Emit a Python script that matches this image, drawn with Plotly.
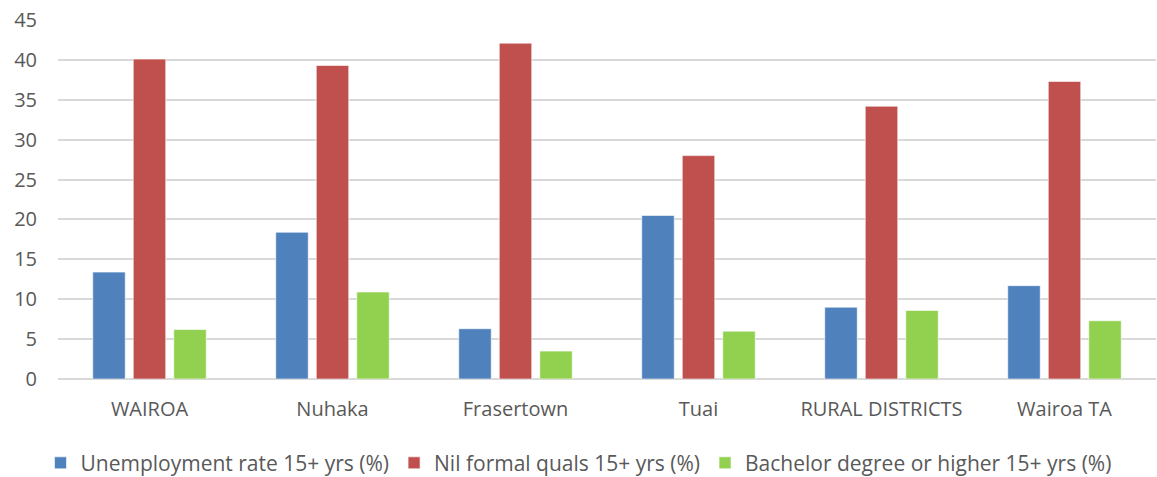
import plotly.graph_objects as go

categories = ["WAIROA", "Nuhaka", "Frasertown", "Tuai", "RURAL DISTRICTS", "Wairoa TA"]
unemployment = [13.4, 18.4, 6.3, 20.5, 9.0, 11.7]
nil_quals = [40.1, 39.3, 42.1, 28.0, 34.2, 37.3]
bachelor = [6.2, 10.9, 3.5, 6.0, 8.6, 7.3]
y_ticks = [0, 5, 10, 15, 20, 25, 30, 35, 40, 45]

series = [
    ("Unemployment rate 15+ yrs (%)", unemployment, "#4F81BD"),
    ("Nil formal quals 15+ yrs (%)", nil_quals, "#C0504D"),
    ("Bachelor degree or higher 15+ yrs (%)", bachelor, "#92D050"),
]

fig = go.Figure()
for name, vals, color in series:
    fig.add_trace(go.Bar(
        x=categories, y=vals, name=name,
        marker=dict(color=color, line=dict(color="rgba(255,255,255,0.6)", width=1)),
    ))

font_family = "Open Sans, Liberation Sans, sans-serif"
fig.update_layout(
    width=1157, height=477,
    margin=dict(l=58, r=1, t=20, b=98, autoexpand=False),
    paper_bgcolor="white", plot_bgcolor="white",
    barmode="group", bargap=0.336, bargroupgap=0.198,
    font=dict(family=font_family, size=20, color="#595959"),
    xaxis=dict(showgrid=False, showline=False, ticks="", tickfont=dict(size=20),
               ticklabelstandoff=16),
    yaxis=dict(range=[0, 45], tickvals=y_ticks, showgrid=True, gridcolor="#D9D9D9",
               gridwidth=1.5, zeroline=True, zerolinecolor="#D9D9D9", zerolinewidth=1.5,
               ticks="", tickfont=dict(size=20), ticklabelstandoff=20),
    legend=dict(orientation="h", x=0.5, xanchor="center", xref="container",
                y=0.029, yanchor="middle", yref="container",
                font=dict(size=21, color="#595959"), itemwidth=30, tracegroupgap=0),
    showlegend=True,
)

fig.write_html("out.html")
